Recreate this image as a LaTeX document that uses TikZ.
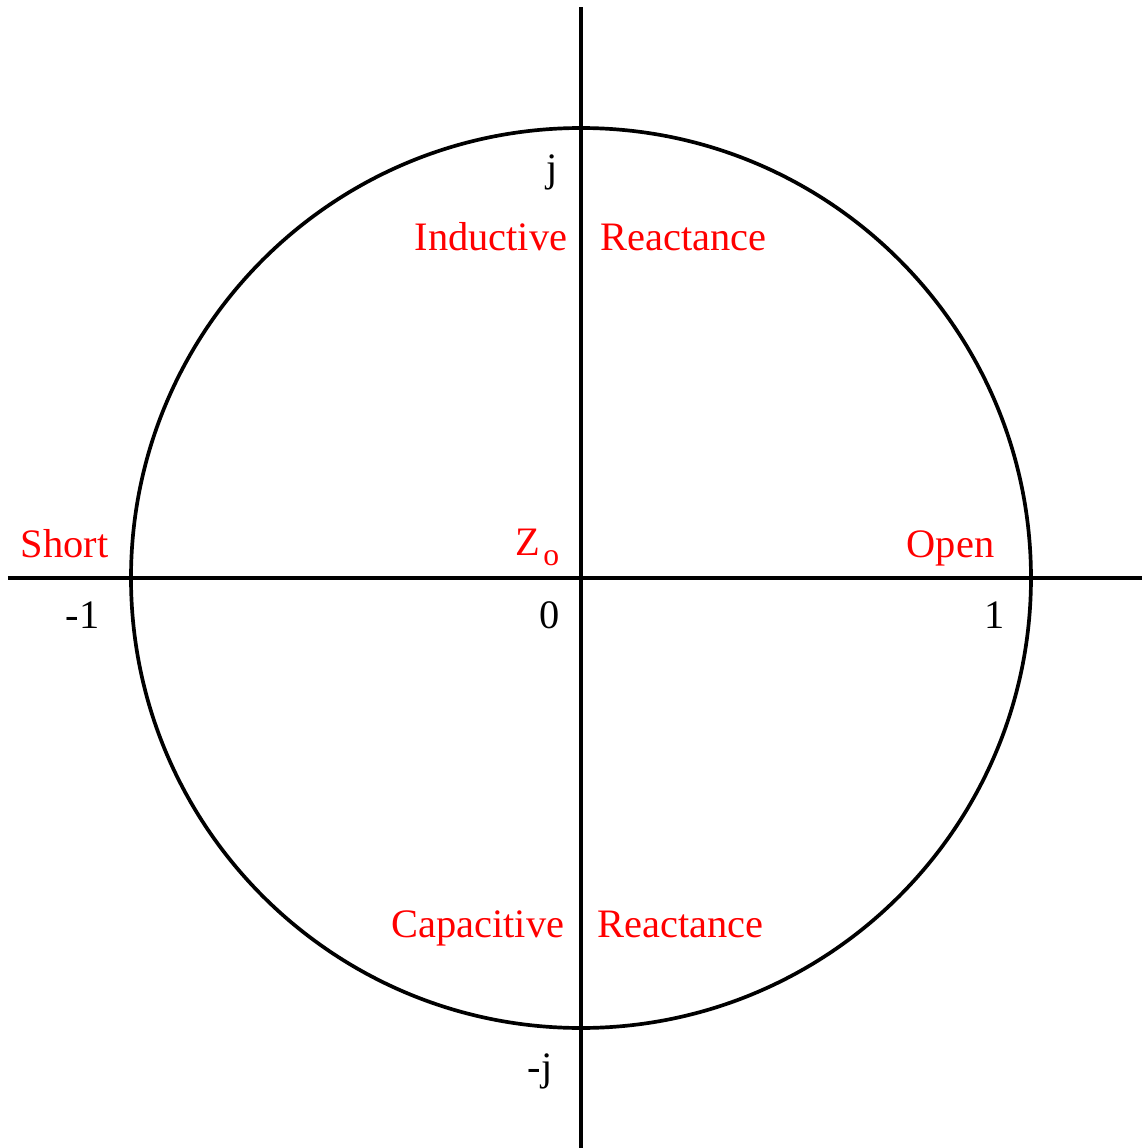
\documentclass[tikz,border=0pt]{standalone}
\usepackage{fontspec}
\setmainfont{LiberationSerif}[Extension=.ttf,UprightFont=*-Regular,BoldFont=*-Bold]
\usetikzlibrary{positioning}

\begin{document}
\begin{tikzpicture}[
    lbl/.style={inner sep=0pt,font=\fontsize{11.5}{13}\selectfont},
    zone/.style={lbl,text=red},
    axis/.style={line width=1.2pt},
]
\useasboundingbox (-5.81,-5.70) rectangle (5.61,5.78);
% axes and unit circle
\coordinate (xl) at (-5.73,0);
\coordinate (xr) at (5.61,0);
\coordinate (yb) at (0,-5.70);
\coordinate (yt) at (0,5.71);
\draw[axis] (xl) -- (xr);
\draw[axis] (yb) -- (yt);
\draw[line width=1.05pt] (0,0) circle (4.5);

% axis values
\node[lbl,anchor=base east] (pj) at (-0.23,3.97) {j};
\node[lbl,anchor=base east] (mj) at (-0.28,-5.02) {-j};
\node[lbl,anchor=base east] (m1) at (-4.81,-0.50) {-1};
\node[lbl,anchor=base east] (o0) at (-0.21,-0.50) {0};
\node[lbl,anchor=base east] (p1) at (4.24,-0.50) {1};

% regions
\node[zone,anchor=base east] (ind) at (-0.13,3.28) {Inductive};
\node[zone,anchor=base west] (rtop) at (0.19,3.28) {Reactance};
\node[zone,anchor=base east] (cap) at (-0.16,-3.59) {Capacitive};
\node[zone,anchor=base west] (rbot) at (0.16,-3.59) {Reactance};
\node[zone,anchor=base west] (short) at (-5.61,0.21) {Short};
\node[zone,anchor=base east] (open) at (4.14,0.21) {Open};
\node[zone,anchor=base east] (zo) at (-0.21,0.23) {Z\kern1pt\raisebox{-0.55ex}{\fontsize{9}{10}\selectfont o}};
\end{tikzpicture}
\end{document}
